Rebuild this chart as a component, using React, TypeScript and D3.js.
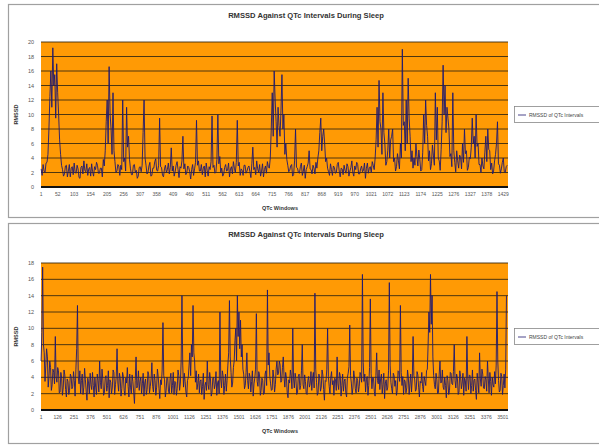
import React from "react";
import * as d3 from "d3";

// ---------- data ----------
const chartTitle = "RMSSD Against QTc Intervals During Sleep";
const yTitle = "RMSSD";
const xTitle = "QTc Windows";
const seriesName = "RMSSD of QTc Intervals";

// Panel 1: 1443 windows. Readings A at windows 1,7,13,... and readings B at windows 4,10,16,...
const windowCount1 = 1443;
const windowStep1 = 6;
const yTicks1 = [0, 2, 4, 6, 8, 10, 12, 14, 16, 18, 20];
const xTickLabels1 = [1, 52, 103, 154, 205, 256, 307, 358, 409, 460, 511, 562, 613, 664, 715, 766, 817, 868, 919, 970, 1021, 1072, 1123, 1174, 1225, 1276, 1327, 1378, 1429];
const rmssd1A = [
  2.5, 3.1, 2.0, 3.4, 8.0, 16.0, 19.2, 15.5, 17.0, 10.0, 4.5, 2.4,
  1.8, 3.0, 2.2, 1.4, 2.8, 3.3, 1.9, 2.5, 1.2, 2.9, 3.6, 2.1, 1.6, 2.7, 3.2, 1.5, 2.4, 3.0, 1.9, 2.6, 3.8,
  5.0, 12.0, 16.6, 8.0, 13.0, 3.5, 2.2, 2.9,
  3.0, 12.0, 4.0, 11.0, 7.0, 2.5, 1.7, 3.1, 2.3, 1.5, 2.8,
  3.0, 12.0, 3.0, 2.0, 3.4, 1.6, 2.6, 3.9, 2.2, 9.5,
  2.7, 1.4, 3.0, 2.4, 1.8, 5.4, 2.9, 2.1, 3.5, 1.3, 2.6, 7.0,
  3.2, 2.0, 2.7, 1.1, 3.1, 2.5, 9.2, 3.6, 2.2, 1.7, 2.9, 3.3, 1.5, 2.4, 9.8, 3.0, 2.1, 10.0,
  4.2, 2.6, 1.8, 3.1, 2.3, 1.4, 2.8, 3.5, 2.0, 9.2,
  3.4, 2.5, 1.6, 3.0, 2.2, 2.9, 1.3, 5.5, 2.7, 3.6, 2.0, 1.5, 3.2, 2.4, 1.9, 2.8,
  4.0, 13.0, 16.0, 9.0, 11.0, 7.0, 15.5, 10.0, 6.0, 3.0,
  2.3, 3.1, 1.7, 8.0, 2.6, 1.9, 3.3, 2.2, 1.2, 2.8, 5.0, 2.4, 3.0, 1.8, 2.6,
  5.0, 9.5, 7.0, 6.0, 4.0,
  2.1, 3.2, 1.6, 2.7, 2.0, 3.4, 1.4, 2.5, 3.0, 1.9, 2.8, 2.2, 3.6, 1.5, 2.4, 3.1, 1.8, 2.9, 2.3, 1.2, 3.3, 2.6, 2.0, 3.0,
  4.0, 11.0, 14.7, 8.0, 13.0, 6.0, 3.5, 8.0, 6.5, 8.0, 4.0, 2.8, 3.6,
  6.0, 19.0, 9.0, 12.0, 15.0, 7.0, 5.0, 4.0, 6.0, 2.9, 3.8, 2.4,
  10.0, 12.0, 7.0, 5.0, 3.2, 4.4, 13.0, 11.0, 3.6, 5.2,
  16.8, 14.0, 11.0, 8.0, 4.6, 13.0, 3.4, 5.0, 2.6, 4.1,
  6.0, 8.0, 5.0, 2.7, 3.9, 9.5, 7.0, 10.0, 6.0, 3.1, 4.0, 2.5,
  7.0, 8.0, 5.0, 3.3, 2.2, 4.5, 9.0, 3.0, 2.5, 4.0, 2.0, 3.0,
];
const rmssd1B = [
  1.6, 2.2, 3.3, 4.5, 12.5, 11.0, 14.0, 9.5, 13.0, 6.5, 3.0, 1.5,
  2.9, 1.4, 3.1, 2.6, 1.7, 2.0, 3.0, 1.3, 2.7, 1.8, 2.3, 3.2, 2.5, 1.5, 2.1, 2.8, 3.4, 1.9, 2.6, 1.4, 2.9,
  9.0, 6.0, 10.0, 4.5, 5.0, 2.0, 3.1, 1.6,
  2.4, 3.5, 2.2, 5.5, 3.8, 1.7, 3.0, 2.0, 1.2, 2.7, 2.1,
  7.5, 4.0, 1.8, 2.9, 1.5, 2.6, 3.5, 2.3, 3.0, 2.8,
  1.6, 2.5, 2.0, 3.3, 2.7, 2.2, 1.5, 3.0, 2.4, 2.8, 3.6, 2.5,
  1.7, 2.9, 2.1, 2.4, 1.6, 3.4, 3.0, 2.2, 3.1, 2.6, 1.4, 2.3, 2.8, 3.5, 2.7, 1.9, 3.8, 3.2,
  2.0, 1.5, 2.7, 2.2, 3.3, 2.5, 1.8, 2.6, 3.4, 2.9,
  1.6, 2.3, 3.0, 1.9, 2.7, 2.1, 3.2, 2.4, 1.7, 2.5, 3.1, 2.2, 1.4, 2.9, 3.5, 2.6,
  8.0, 7.0, 12.0, 5.5, 8.5, 10.5, 8.0, 4.5, 3.8, 2.1,
  2.9, 1.5, 3.6, 2.7, 2.0, 2.8, 1.6, 3.0, 2.4, 3.3, 2.5, 1.8, 2.6, 3.4, 4.0,
  7.5, 5.0, 8.0, 3.5, 2.6,
  1.6, 2.4, 2.9, 1.9, 3.1, 2.2, 2.6, 1.7, 2.3, 3.2, 1.5, 2.7, 2.0, 2.9, 3.4, 1.8, 2.5, 2.1, 3.3, 2.6, 1.9, 2.8, 3.5, 2.4,
  6.5, 5.5, 9.0, 4.5, 7.5, 3.0, 5.0, 4.0, 7.0, 3.5, 2.2, 4.6, 2.5,
  4.0, 8.5, 5.0, 6.0, 9.5, 3.5, 2.6, 3.0, 4.2, 5.1, 2.2, 4.8,
  6.0, 8.5, 3.6, 2.4, 5.8, 3.0, 6.5, 4.0, 2.3, 9.0,
  10.0, 7.5, 9.5, 4.2, 2.8, 5.0, 2.1, 3.6, 4.4, 2.5,
  3.4, 4.6, 2.3, 4.1, 5.5, 6.0, 4.0, 5.6, 3.1, 2.0, 2.9, 4.8,
  3.5, 5.2, 2.4, 1.8, 3.6, 6.0, 3.2, 1.9, 3.4, 2.1, 2.8,
];

// Panel 2: 3540 windows. Readings A at windows 1,13,25,... and readings B at windows 7,19,31,...
const windowCount2 = 3540;
const windowStep2 = 12;
const yTicks2 = [0, 2, 4, 6, 8, 10, 12, 14, 16, 18];
const xTickLabels2 = [1, 126, 251, 376, 501, 626, 751, 876, 1001, 1126, 1251, 1376, 1501, 1626, 1751, 1876, 2001, 2126, 2251, 2376, 2501, 2626, 2751, 2876, 3001, 3126, 3251, 3376, 3501];
const rmssd2A = [
  6.0, 17.5, 7.0, 5.5, 6.5, 4.0, 5.2, 3.1, 4.6, 9.0,
  3.4, 4.8, 2.2, 3.9, 2.7, 4.3, 1.6, 3.5, 2.4, 4.1,
  2.9, 3.6, 5.0, 12.8, 3.2, 2.0, 4.4, 2.8, 3.7, 1.2,
  3.3, 4.5, 2.5, 3.0, 4.0, 1.9, 3.6, 6.0, 2.6, 3.8,
  2.1, 4.2, 3.0, 1.5, 3.4, 2.7, 4.6, 3.1, 7.5, 2.3,
  3.9, 2.6, 4.1, 1.8, 3.3, 2.9, 4.4, 2.0, 3.5, 0.8,
  6.5, 3.0, 2.4, 4.0, 3.2, 1.7, 3.8, 2.5, 4.3, 2.9,
  5.8, 2.2, 3.6, 2.8, 4.1, 1.4, 3.1, 10.7, 3.7, 2.4,
  3.9, 2.0, 4.5, 3.0, 1.9, 3.4, 2.6, 4.2, 3.3, 14.0,
  2.8, 3.5, 1.6, 4.0, 7.0, 8.0, 12.8, 6.0, 4.8, 3.2,
  2.1, 3.7, 2.9, 1.3, 3.4, 6.0, 2.5, 3.8, 2.2, 4.0,
  3.1, 1.8, 3.6, 12.0, 2.7, 4.2, 3.0, 2.3, 5.5, 13.4,
  4.6, 3.3, 6.0, 10.0, 14.0, 12.0, 11.0, 8.0, 4.4, 3.0,
  7.0, 2.6, 4.1, 3.5, 1.7, 3.9, 11.8, 2.9, 4.3, 2.4,
  3.6, 2.0, 4.8, 14.7, 7.0, 3.2, 2.5, 4.0, 3.1, 6.0,
  4.5, 5.5, 3.6, 6.5, 2.8, 3.9, 1.5, 3.3, 4.2, 10.0,
  2.7, 3.8, 2.2, 4.4, 3.0, 8.0, 2.6, 3.5, 1.9, 4.1,
  3.2, 2.4, 4.6, 14.3, 3.4, 2.1, 3.9, 2.8, 4.3, 1.2,
  3.5, 10.0, 2.9, 4.0, 3.1, 1.8, 3.7, 6.5, 2.5, 4.2,
  3.0, 2.3, 3.8, 1.6, 4.5, 10.4, 3.3, 2.7, 4.0, 2.1,
  3.6, 2.9, 4.3, 16.6, 3.5, 2.2, 4.1, 3.0, 13.6, 2.6,
  3.9, 1.7, 7.0, 3.2, 2.5, 4.4, 3.1, 1.4, 3.7, 2.8,
  15.6, 3.4, 2.0, 4.2, 3.6, 2.4, 4.7, 12.8, 3.0, 1.9,
  3.5, 2.7, 4.0, 3.2, 2.2, 9.0, 3.8, 2.5, 4.3, 1.6,
  3.3, 2.9, 4.1, 3.0, 5.0, 12.0, 16.6, 14.0, 4.2, 2.6,
  3.7, 2.1, 6.0, 3.4, 2.8, 4.0, 1.5, 3.6, 2.4, 4.5,
  3.1, 8.0, 2.7, 3.9, 2.2, 4.1, 3.3, 1.8, 3.6, 9.0,
  2.5, 4.2, 3.0, 2.3, 3.8, 1.3, 3.4, 7.0, 2.9, 4.4,
  2.6, 3.7, 6.0, 2.1, 3.5, 4.0, 2.8, 3.2, 14.5, 3.6,
  2.4, 4.1, 3.0, 2.7, 14.0,
];
const rmssd2B = [
  9.5, 8.0, 3.5, 7.5, 2.8, 6.0, 2.4, 5.0, 3.2, 4.0,
  5.2, 2.1, 4.6, 1.8, 4.9, 2.5, 3.8, 1.9, 4.4, 2.6,
  4.7, 1.7, 7.5, 4.0, 4.8, 3.6, 1.9, 5.1, 2.3, 3.9,
  2.0, 3.1, 4.6, 1.6, 2.8, 4.4, 2.2, 3.4, 5.0, 1.8,
  3.9, 2.3, 4.8, 3.7, 2.0, 4.9, 1.9, 4.1, 3.3, 4.5,
  1.7, 4.6, 2.4, 3.9, 5.2, 1.6, 2.8, 4.3, 2.2, 3.6,
  2.7, 4.8, 3.5, 2.0, 4.5, 3.3, 1.9, 4.7, 2.1, 3.8,
  2.9, 4.4, 1.8, 5.0, 2.6, 3.7, 4.9, 4.2, 1.6, 4.0,
  2.3, 3.8, 2.1, 4.6, 3.5, 1.8, 4.9, 2.4, 6.0, 5.5,
  4.5, 2.2, 3.6, 5.5, 4.2, 6.5, 7.0, 3.4, 2.5, 4.4,
  3.5, 1.9, 4.5, 3.0, 2.4, 3.1, 4.6, 1.7, 3.9, 2.6,
  4.7, 3.3, 2.0, 3.8, 4.8, 1.9, 4.4, 3.6, 7.0, 6.5,
  2.8, 5.2, 8.5, 6.0, 9.0, 7.5, 6.5, 5.0, 2.6, 4.6,
  3.6, 4.5, 2.2, 4.8, 3.2, 5.0, 3.5, 4.7, 1.8, 3.9,
  1.9, 4.4, 3.0, 5.5, 4.1, 2.4, 4.9, 2.2, 5.0, 4.3,
  6.0, 3.4, 5.2, 4.0, 4.6, 2.1, 3.7, 4.9, 2.6, 3.8,
  4.5, 1.9, 4.1, 2.5, 4.8, 3.1, 4.3, 2.0, 3.6, 2.8,
  4.7, 3.9, 2.7, 5.0, 1.8, 4.4, 2.3, 4.9, 2.5, 3.6,
  5.0, 4.1, 2.0, 4.7, 3.6, 3.9, 2.4, 3.2, 4.6, 1.7,
  4.4, 3.5, 2.1, 4.0, 5.3, 4.2, 1.9, 4.8, 2.6, 3.9,
  2.2, 4.6, 3.4, 5.8, 4.4, 3.7, 1.8, 5.2, 4.5, 4.0,
  2.3, 4.2, 3.6, 4.9, 3.8, 2.0, 4.5, 3.3, 2.4, 4.8,
  5.5, 2.6, 4.5, 2.9, 1.8, 4.8, 3.5, 4.6, 4.1, 3.7,
  2.1, 4.9, 1.9, 4.4, 3.8, 4.2, 2.3, 4.7, 2.8, 3.5,
  4.6, 2.2, 3.5, 4.8, 8.0, 9.5, 10.5, 6.5, 3.1, 4.5,
  2.0, 4.4, 3.3, 4.9, 2.5, 3.0, 4.2, 1.9, 4.6, 3.2,
  4.7, 3.6, 4.4, 1.9, 4.8, 2.6, 4.5, 3.9, 2.3, 4.0,
  4.3, 2.0, 4.9, 3.6, 2.4, 4.5, 2.1, 3.8, 5.0, 2.7,
  4.1, 2.3, 3.9, 4.6, 1.8, 3.1, 4.7, 5.5, 6.0, 2.2,
  4.5, 1.9, 4.4, 5.0,
];

// ---------- drawing ----------
const FONT = "'Liberation Sans', Arial, sans-serif";
const ORANGE = "#FF9A05";
const GRID = "#3a2a10";
const LINE = "#1e1870";

type Pt = [number, number];

function mergeReadings(a: number[], b: number[], step: number): Pt[] {
  const pa: Pt[] = a.map((v, i) => [1 + i * step, v]);
  const pb: Pt[] = b.map((v, i) => [1 + step / 2 + i * step, v]);
  return [...pa, ...pb].sort((p, q) => p[0] - q[0]);
}

type PanelProps = {
  top: number; bottom: number;
  plotTop: number; plotBottom: number;
  yMax: number; yTicks: number[];
  windowCount: number;
  points: Pt[]; xLabels: number[];
  legendY: number;
};

function Panel(p: PanelProps) {
  const plotLeft = 41, plotRight = 508;
  const x = d3.scaleLinear().domain([0.5, p.windowCount + 0.5]).range([plotLeft, plotRight]);
  const y = d3.scaleLinear().domain([0, p.yMax]).range([p.plotBottom, p.plotTop]);
  const line = d3.line<Pt>().x(d => x(d[0])).y(d => y(d[1]));
  const midY = (p.plotTop + p.plotBottom) / 2;
  return (
    <g>
      <rect x={8.5} y={p.top + 0.5} width={620} height={p.bottom - p.top} fill="#fff" stroke="#a0a0a0" strokeWidth={1.2} />
      <text x={306} y={p.top + 14} textAnchor="middle" fontFamily={FONT} fontSize={7.6} fontWeight="bold" fill="#333">{chartTitle}</text>
      <rect x={plotLeft} y={p.plotTop} width={plotRight - plotLeft} height={p.plotBottom - p.plotTop} fill={ORANGE} />
      {p.yTicks.map(t => (
        <g key={t}>
          <line x1={plotLeft} x2={plotRight} y1={y(t)} y2={y(t)} stroke={GRID} strokeWidth={0.9} />
          <text x={34} y={y(t) + 2} textAnchor="end" fontFamily={FONT} fontSize={5.5} fill="#555">{t}</text>
        </g>
      ))}
      <path d={line(p.points) || ""} fill="none" stroke={LINE} strokeWidth={0.9} strokeLinejoin="round" />
      <line x1={plotLeft} x2={plotRight} y1={p.plotBottom} y2={p.plotBottom} stroke="#111" strokeWidth={2} />
      {p.xLabels.map(t => (
        <text key={t} x={x(t)} y={p.plotBottom + 9} textAnchor="middle" fontFamily={FONT} fontSize={5} fill="#555">{t}</text>
      ))}
      <text x={280} y={p.plotBottom + 23} textAnchor="middle" fontFamily={FONT} fontSize={5.5} fontWeight="bold" fill="#333">{xTitle}</text>
      <text transform={`translate(18,${midY}) rotate(-90)`} textAnchor="middle" fontFamily={FONT} fontSize={5.5} fontWeight="bold" fill="#333">{yTitle}</text>
      <rect x={514.5} y={p.legendY - 8.5} width={100} height={16} fill="#fff" stroke="#888" strokeWidth={0.8} />
      <line x1={518} x2={526} y1={p.legendY} y2={p.legendY} stroke={LINE} strokeWidth={0.8} />
      <text x={529} y={p.legendY + 2} fontFamily={FONT} fontSize={5} fill="#444">{seriesName}</text>
    </g>
  );
}

export default function App() {
  const pts1 = mergeReadings(rmssd1A, rmssd1B, windowStep1);
  const pts2 = mergeReadings(rmssd2A, rmssd2B, windowStep2);
  return (
    <svg width={599} height={446} style={{ position: "absolute", left: 0, top: 0, background: "#fff" }}>
      <Panel top={4} bottom={217} plotTop={42} plotBottom={187} yMax={20} yTicks={yTicks1}
        windowCount={windowCount1} points={pts1} xLabels={xTickLabels1} legendY={115} />
      <Panel top={223} bottom={443} plotTop={263} plotBottom={410} yMax={18} yTicks={yTicks2}
        windowCount={windowCount2} points={pts2} xLabels={xTickLabels2} legendY={337} />
    </svg>
  );
}
